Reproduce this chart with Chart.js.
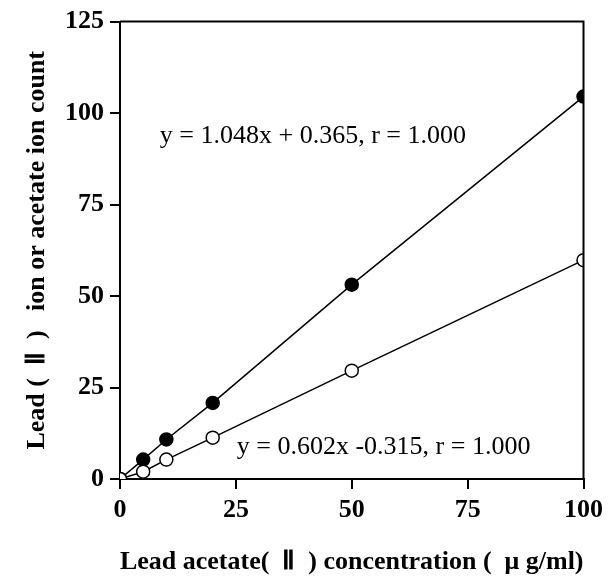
<!DOCTYPE html>
<html><head><meta charset="utf-8">
<script src="https://cdn.jsdelivr.net/npm/chart.js@4"></script>
<style>html,body{margin:0;padding:0;background:#fff}#wrap{width:609px;height:581px}</style>
</head><body><div id="wrap"><canvas id="c" width="609" height="581"></canvas></div>
<script>
const concentrations = [0, 5, 10, 20, 50, 100];
const leadIon = [0, 5.3, 10.8, 20.8, 53.1, 104.5];
const acetateIon = [0, 2.0, 5.3, 11.3, 29.6, 59.8];
const xTicks = [0, 25, 50, 75, 100];
const yTicks = [0, 25, 50, 75, 100, 125];
const eqLead = "y = 1.048x + 0.365, r = 1.000";
const eqAcetate = "y = 0.602x -0.315, r = 1.000";

const serif = "'Liberation Serif','Times New Roman',serif";

const framePlugin = {
  id: 'frame',
  afterDraw(chart) {
    const {ctx, chartArea: a, scales} = chart;
    ctx.save();
    ctx.strokeStyle = '#000';
    ctx.lineWidth = 2;
    ctx.beginPath();
    ctx.moveTo(a.left, a.top); ctx.lineTo(a.right, a.top); ctx.lineTo(a.right, a.bottom);
    ctx.stroke();
    ctx.fillStyle = '#000';
    ctx.font = "26px " + serif;
    ctx.textBaseline = 'middle';
    ctx.textAlign = 'left';
    ctx.fillText(eqLead, scales.x.getPixelForValue(8.6), scales.y.getPixelForValue(93.7));
    ctx.fillText(eqAcetate, scales.x.getPixelForValue(25.2), scales.y.getPixelForValue(8.7));
    ctx.restore();
  }
};

new Chart(document.getElementById('c'), {
  type: 'scatter',
  data: {
    datasets: [
      {
        label: 'Lead (II) ion',
        data: concentrations.map((x, i) => ({x, y: leadIon[i]})),
        showLine: true, borderColor: '#000', borderWidth: 1.5,
        pointBackgroundColor: '#000', pointBorderColor: '#000', pointBorderWidth: 1.5,
        pointRadius: 6.5, order: 2
      },
      {
        label: 'Acetate ion',
        data: concentrations.map((x, i) => ({x, y: acetateIon[i]})),
        showLine: true, borderColor: '#000', borderWidth: 1.5,
        pointBackgroundColor: '#fff', pointBorderColor: '#000', pointBorderWidth: 1.5,
        pointRadius: 6.5, order: 1
      }
    ]
  },
  options: {
    responsive: false, animation: false, devicePixelRatio: 1,
    layout: {padding: {left: 0, top: 20, right: 25, bottom: 0}},
    plugins: {legend: {display: false}, tooltip: {enabled: false}},
    scales: {
      x: {
        type: 'linear', min: 0, max: 100,
        afterBuildTicks: s => { s.ticks = xTicks.map(v => ({value: v})); },
        afterFit: s => { s.height = 102; },
        grid: {drawOnChartArea: false, color: '#000', lineWidth: 2, tickLength: 10, tickWidth: 2},
        border: {color: '#000', width: 2},
        ticks: {color: '#000', font: {family: serif, size: 26, weight: 'bold'}, padding: 6, maxRotation: 0},
        title: {display: true, text: 'Lead acetate(  Ⅱ  ) concentration (  μ g/ml)', color: '#000',
                font: {family: serif, size: 26, weight: 'bold'}, padding: {top: 0, bottom: 3}}
      },
      y: {
        type: 'linear', min: 0, max: 125,
        afterBuildTicks: s => { s.ticks = yTicks.map(v => ({value: v})); },
        afterFit: s => { s.width = 120; },
        grid: {drawOnChartArea: false, color: '#000', lineWidth: 2, tickLength: 10, tickWidth: 2},
        border: {color: '#000', width: 2},
        ticks: {color: '#000', font: {family: serif, size: 26, weight: 'bold'}, padding: 6},
        title: {display: true, text: 'Lead (  Ⅱ  )   ion or acetate ion count', color: '#000',
                font: {family: serif, size: 26, weight: 'bold'}, padding: {top: 22, bottom: 0}}
      }
    }
  },
  plugins: [framePlugin]
});
</script></body></html>
